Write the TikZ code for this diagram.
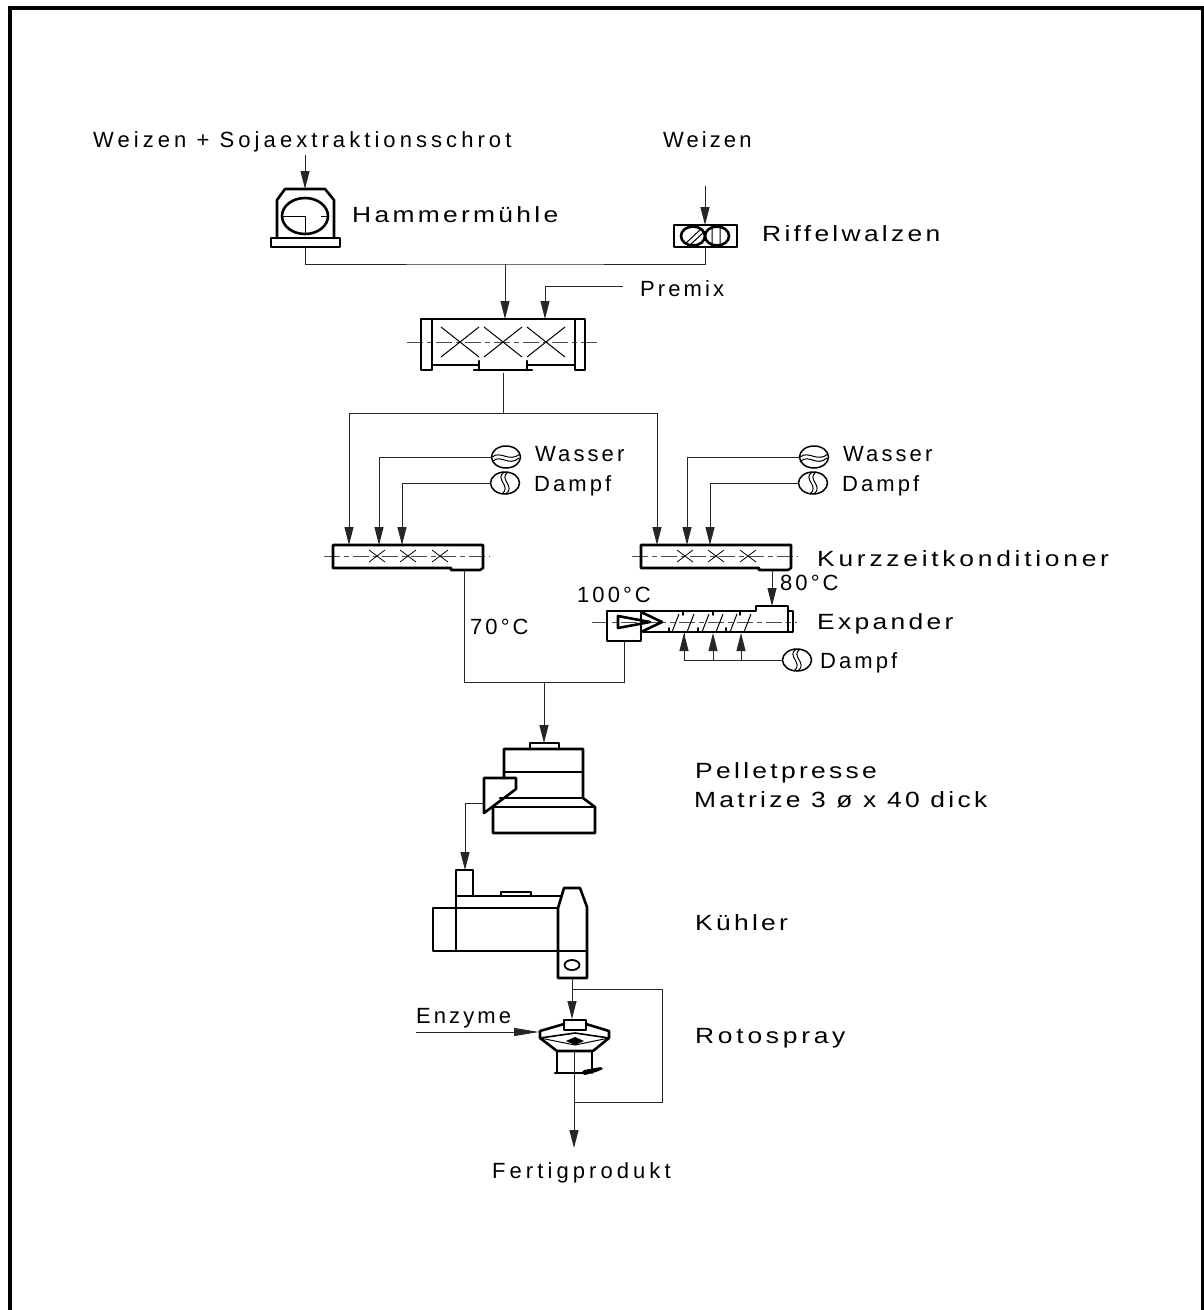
\documentclass[tikz,border=0pt]{standalone}
\usepackage{fontspec}
\setmainfont{Liberation Sans}[LetterSpace=15, FakeStretch=1.2]
\usepackage{tikz}
\usetikzlibrary{arrows.meta}

\begin{document}
\begin{tikzpicture}[x=1pt, y=-1pt,
    lbl/.style={font=\fontsize{22}{24}\selectfont, anchor=base west, inner sep=0pt},
    lblwide/.style={lbl, font=\fontsize{22}{24}\selectfont\addfontfeature{LetterSpace=17}},
    lblmid/.style={lbl, font=\fontsize{22}{24}\selectfont\addfontfeature{FakeStretch=1.0, LetterSpace=18.5}},
    lblnarrow/.style={lbl, font=\fontsize{22}{24}\selectfont\addfontfeature{FakeStretch=1.0, LetterSpace=14}},
    body/.style={draw=black, line width=2.6pt, line join=round, line cap=round},
    thinb/.style={draw=black, line width=1pt},
    conn/.style={draw=black!85, line width=1pt},
    flow/.style={conn, -{Stealth[length=18pt, width=9pt, inset=0pt]}},
    shaft/.style={draw=black!70, line width=1pt, dash pattern=on 16pt off 4pt on 5pt off 4pt},
    watersym/.pic={
      \draw[thinb, line width=1.5pt] (0,0) ellipse [x radius=14.5, y radius=11];
      \draw[thinb] (-14,0) .. controls (-5,-7) and (3,6) .. (14,-3);
      \draw[thinb] (-13,4) .. controls (-5,-3) and (3,10) .. (13,1);
    },
    steamsym/.pic={
      \draw[thinb, line width=1.5pt] (0,0) ellipse [x radius=14.5, y radius=11];
      \draw[thinb] (-1,-11) .. controls (-11,-4) and (7,3) .. (-3,11);
      \draw[thinb] (3,-11) .. controls (-7,-4) and (11,3) .. (1,11);
    },
    condbody/.pic={
      \draw[shaft] (-9,11) -- (157,11);
      \draw[body] (0,23) -- (0,0) -- (150,0) -- (150,23) -- (147,25) -- (118,25) -- (118,23) -- cycle;
      \foreach \cx in {44,75,107}
        \draw[thinb, line width=.8pt] (\cx-8,5) -- (\cx+8,17) (\cx-8,17) -- (\cx+8,5);
    }]
  \useasboundingbox (0,0) rectangle (1204,1310);
  \draw[line width=4pt] (10,1312) -- (10,8) -- (1203,8) -- (1203,1312);

  \coordinate (hamIn) at (305,155);
  \coordinate (hamTop) at (305,189);
  \coordinate (hamOut) at (305,247);
  \coordinate (rifIn) at (705,186);
  \coordinate (rifTop) at (705,225);
  \coordinate (rifOut) at (705,247);
  \coordinate (join) at (505,264);
  \coordinate (mixTop) at (505,319);
  \coordinate (preEnd) at (623,286);
  \coordinate (preTop) at (545,319);
  \coordinate (mixOut) at (503,373);
  \coordinate (split) at (503,413);
  \coordinate (condA) at (349,545);
  \coordinate (condB) at (657,545);
  \coordinate (waterA) at (492,457);
  \coordinate (waterATop) at (379,545);
  \coordinate (steamA) at (491,483);
  \coordinate (steamATop) at (402,545);
  \coordinate (waterB) at (800,457);
  \coordinate (waterBTop) at (687,545);
  \coordinate (steamB) at (799,483);
  \coordinate (steamBTop) at (710,545);
  \coordinate (condAOut) at (464,570);
  \coordinate (condBOut) at (772,570);
  \coordinate (expTop) at (772,606);
  \coordinate (expOut) at (624,641);
  \coordinate (merge) at (544,682);
  \coordinate (pressTop) at (544,743);
  \coordinate (chute) at (484,803);
  \coordinate (coolTop) at (465,870);
  \coordinate (coolOut) at (572,978);
  \coordinate (rotoTop) at (572,1019);
  \coordinate (loopA) at (572,989);
  \coordinate (loopB) at (574,1102);
  \coordinate (rotoIn) at (574,1052);
  \coordinate (prodEnd) at (574,1148);
  \coordinate (enzStart) at (416,1032);
  \coordinate (enzEnd) at (539,1032);
  \coordinate (expSteam) at (783,660);
  \coordinate (stA) at (684,633);
  \coordinate (stB) at (713,633);
  \coordinate (stC) at (741,633);

  \draw[body] (277,238) -- (277,200) -- (285,189) -- (325,189) -- (334,200) -- (334,238);
  \draw[body] (271,238) rectangle (340,247);
  \draw[body] (305,216) ellipse [x radius=23, y radius=18];
  \draw[thinb] (283,216) -- (305,216) -- (305,234) (321,216) -- (327,216);

  \draw[body] (674,225) rectangle (737,247);
  \draw[body] (693,236) ellipse [x radius=12, y radius=9.5];
  \draw[body] (717,236) ellipse [x radius=12, y radius=9.5];
  \draw[thinb] (686,243) -- (701,229) (691,244) -- (704,232) (712,227) -- (712,245) (720,227) -- (720,245);

  \draw[shaft] (407,342) -- (598,342);
  \draw[body] (432,319) rectangle (575,365);
  \draw[body] (421,319) rectangle (432,370);
  \draw[body] (575,319) rectangle (585,370);
  \draw[draw=white, line width=3pt] (479,365) -- (527,365);
  \draw[body] (474,370) -- (532,370) (479,361) -- (479,370) (527,361) -- (527,370);
  \foreach \cx in {460,503,546}
    \draw[thinb] (\cx-19,327) -- (\cx+19,357) (\cx-19,357) -- (\cx+19,327);

  \pic at (333,545) {condbody};
  \pic at (641,545) {condbody};
  \pic at (506,457) {watersym};
  \pic at (814,457) {watersym};
  \pic at (505,483) {steamsym};
  \pic at (813,483) {steamsym};
  \pic at (797,660) {steamsym};

  \draw[shaft] (592,622) -- (797,622);
  \draw[body] (607,611) rectangle (641,641);
  \draw[body] (641,611) -- (756,611) -- (756,606) -- (788,606) -- (788,632) -- (641,632);
  \draw[body, line width=1.8pt] (788,611) -- (793,611) -- (793,632) -- (788,632);
  \draw[body] (618,616) -- (650,622) -- (618,628) -- cycle;
  \draw[body] (641,612) -- (662,622) -- (641,632);
  \foreach \sx in {672,687,702,716,730,744}
    \draw[thinb] (\sx,632) -- (\sx+7,614);
  \foreach \tx in {683,713,740}
    \draw[body, line width=1.6pt] (\tx,611) -- (\tx,615);
  \foreach \tx in {669,698,726}
    \draw[body, line width=1.6pt] (\tx,632) -- (\tx,628);

  \draw[body] (530,749) -- (530,743) -- (559,743) -- (559,749);
  \draw[body] (504,778) -- (504,749) -- (583,749) -- (583,798) -- (595,807) -- (595,833) -- (493,833) -- (493,807);
  \draw[body] (504,772) -- (583,772) (500,798) -- (583,798) (493,807) -- (595,807);
  \draw[body] (484,778) -- (516,778) -- (516,789) -- (484,813) -- cycle;

  \draw[body] (456,951) -- (456,870) -- (473,870) -- (473,896);
  \draw[body] (501,896) -- (501,892) -- (531,892) -- (531,896);
  \draw[body, line width=1.8pt] (456,896) -- (562,896);
  \draw[body] (558,908) -- (433,908) -- (433,951) -- (558,951);
  \draw[body] (558,908) -- (564,888) -- (580,888) -- (587,907) -- (587,978) -- (558,978) -- cycle;
  \draw[body] (558,951) -- (587,951);
  \draw[body, line width=1.8pt] (572,965) ellipse [x radius=7.5, y radius=5];

  \draw[body] (564,1020) rectangle (586,1030);
  \draw[body] (564,1024) -- (540,1031) -- (540,1038) -- (557,1051) -- (593,1051) -- (609,1038) -- (609,1031) -- (586,1024);
  \draw[body, line width=1.6pt] (540,1038) -- (575,1033) -- (609,1038);
  \draw[thinb] (540,1038) -- (575,1045) -- (609,1038) (557,1051) -- (593,1051);
  \fill (566,1041) -- (575,1037) -- (584,1041) -- (575,1045) -- cycle;
  \draw[body] (557,1051) -- (557,1073) (592,1051) -- (592,1073) (555,1073) -- (585,1073);
  \fill (581,1073) -- (584,1070) -- (601,1067) -- (603,1069) -- (596,1072) -- (585,1075) -- cycle;

  \draw[flow] (hamIn) -- (hamTop);
  \draw[flow] (rifIn) -- (rifTop);
  \draw[conn] (hamOut) |- (join) -| (rifOut);
  \draw[flow] (join) -- (mixTop);
  \draw[flow] (preEnd) -| (preTop);
  \draw[conn] (mixOut) -- (split);
  \draw[flow] (split) -| (condA);
  \draw[flow] (split) -| (condB);
  \draw[flow] (waterA) -| (waterATop);
  \draw[flow] (steamA) -| (steamATop);
  \draw[flow] (waterB) -| (waterBTop);
  \draw[flow] (steamB) -| (steamBTop);
  \draw[conn] (condAOut) |- (merge) -| (expOut);
  \draw[flow] (condBOut) -- (expTop);
  \draw[flow] (merge) -- (pressTop);
  \draw[flow] (chute) -| (coolTop);
  \draw[flow] (coolOut) -- (rotoTop);
  \draw[conn] (loopA) -- (662,989) -- (662,1102) -- (loopB);
  \draw[flow] (rotoIn) -- (prodEnd);
  \draw[conn, -{Stealth[length=25pt, width=8pt, inset=0pt]}] (enzStart) -- (enzEnd);
  \draw[conn] (expSteam) -| (stA);
  \draw[flow] (684,660) -- (stA);
  \draw[flow] (713,660) -- (stB);
  \draw[flow] (741,660) -- (stC);

  \node[lblmid] (lblWeizenSoja) at (93,147) {Weizen + Sojaextraktionsschrot};
  \node[lblnarrow] (lblWeizen) at (663,147) {Weizen};
  \node[lbl] (lblHammer) at (352,222) {Hammermühle};
  \node[lbl] (lblRiffel) at (762,241) {Riffelwalzen};
  \node[lblnarrow] (lblPremix) at (640,296) {Premix};
  \node[lblnarrow] (lblWasserA) at (535,461) {Wasser};
  \node[lblnarrow] (lblDampfA) at (534,491) {Dampf};
  \node[lblnarrow] (lblWasserB) at (843,461) {Wasser};
  \node[lblnarrow] (lblDampfB) at (842,491) {Dampf};
  \node[lblwide] (lblKurz) at (817,566) {Kurzzeitkonditioner};
  \node[lblnarrow] (lblAchtzig) at (780,590) {80°C};
  \node[lblnarrow] (lblHundert) at (577,602) {100°C};
  \node[lbl] (lblExpander) at (817,629) {Expander};
  \node[lblnarrow] (lblSiebzig) at (470,634) {70°C};
  \node[lblnarrow] (lblDampfC) at (820,668) {Dampf};
  \node[lbl] (lblPellet) at (695,778) {Pelletpresse};
  \node[lbl] (lblMatrize) at (694,807) {Matrize 3 ø x 40 dick};
  \node[lbl] (lblKuehler) at (695,930) {Kühler};
  \node[lblnarrow] (lblEnzyme) at (416,1023) {Enzyme};
  \node[lblwide] (lblRoto) at (695,1043) {Rotospray};
  \node[lblmid] (lblFertig) at (492,1178) {Fertigprodukt};
\end{tikzpicture}
\end{document}
